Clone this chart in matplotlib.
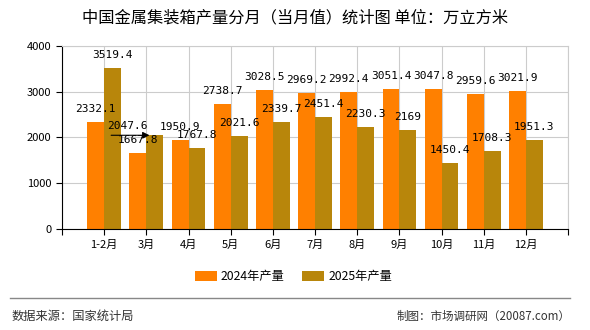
import matplotlib
matplotlib.use("Agg")
import matplotlib.pyplot as plt
import numpy as np

plt.rcParams["font.family"] = ["Noto Sans CJK SC", "DejaVu Sans"]
plt.rcParams["axes.unicode_minus"] = False

months = ["1-2月", "3月", "4月", "5月", "6月", "7月", "8月", "9月", "10月", "11月", "12月"]
prod_2024 = [2332.1, 1667.8, 1950.9, 2738.7, 3028.5, 2969.2, 2992.4, 3051.4, 3047.8, 2959.6, 3021.9]
prod_2025 = [3519.4, 2047.6, 1767.8, 2021.6, 2339.7, 2451.4, 2230.3, 2169, 1450.4, 1708.3, 1951.3]
label_2025 = ["3519.4", "2047.6", "1767.8", "2021.6", "2339.7", "2451.4", "2230.3", "2169", "1450.4", "1708.3", "1951.3"]
label_2024 = ["2332.1", "1667.8", "1950.9", "2738.7", "3028.5", "2969.2", "2992.4", "3051.4", "3047.8", "2959.6", "3021.9"]

c24 = "#ff8000"
c25 = "#b8860b"
w = 0.4

fig = plt.figure(figsize=(5.9, 3.3), dpi=100)
ax = fig.add_axes([0.105, 0.306, 0.858, 0.555])
x = np.arange(len(months))

ax.bar(x - w / 2, prod_2024, width=w, color=c24, label="2024年产量", zorder=2)
ax.bar(x + w / 2, prod_2025, width=w, color=c25, label="2025年产量", zorder=2)

num_font = dict(family="DejaVu Sans Mono", fontsize=8, ha="center", va="center")
for i in range(len(months)):
    ax.annotate(label_2024[i], (x[i] - w / 2, prod_2024[i]), xytext=(0, 13),
                textcoords="offset pixels", **num_font)
    if i == 1:
        # label pushed aside with a pointer arrow
        ax.annotate(label_2025[i], (x[i] + w / 2, prod_2025[i]), xytext=(-27, 9),
                    textcoords="offset pixels", **num_font)
        ax.annotate("", xy=(x[i] + 0.14, prod_2025[i]), xytext=(x[i] - 0.9, prod_2025[i]),
                    arrowprops=dict(arrowstyle="-|>", color="black", lw=0.8))
    else:
        ax.annotate(label_2025[i], (x[i] + w / 2, prod_2025[i]), xytext=(0, 13),
                    textcoords="offset pixels", **num_font)

ax.set_xlim(-1, 11)
ax.set_ylim(0, 4000)
ax.set_yticks([0, 1000, 2000, 3000, 4000])
ax.set_xticks(np.arange(-1, 12))
ax.set_xticklabels([""] + months + [""], fontsize=8)
ax.tick_params(axis="y", labelsize=8, length=4, width=0.8)
ax.tick_params(axis="x", length=4, width=0.8)
ax.grid(True, color="#cccccc", lw=0.8, zorder=0)
ax.set_axisbelow(True)
ax.spines["top"].set_color("#cccccc")
ax.spines["right"].set_color("#cccccc")

fig.text(0.5, 0.945, "中国金属集装箱产量分月（当月值）统计图 单位：万立方米", ha="center", va="center", fontsize=11.7)
fig.legend(loc="center", bbox_to_anchor=(0.497, 0.161), ncol=2, frameon=False, fontsize=8.8,
           handlelength=1.8, handleheight=0.9, columnspacing=1.5, handletextpad=0.3)
fig.add_artist(plt.Line2D([0.017, 0.966], [0.097, 0.097], color="#888888", lw=1))
fig.text(0.02, 0.042, "数据来源：国家统计局", ha="left", va="center", fontsize=8.8, color="#333333")
fig.text(0.966, 0.042, "制图：市场调研网（20087.com）", ha="right", va="center", fontsize=8.3, color="#333333")

fig.savefig("out.png", dpi=100)
